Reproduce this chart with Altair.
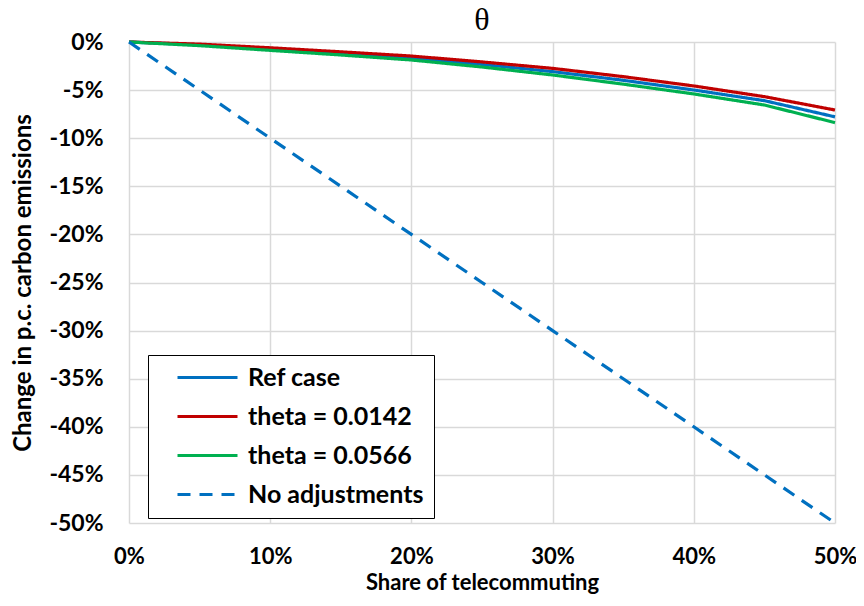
import altair as alt
import pandas as pd

share = [0, 5, 10, 15, 20, 25, 30, 35, 40, 45, 50]
ref_case = [0, -0.30, -0.75, -1.20, -1.66, -2.33, -3.08, -3.98, -4.99, -6.10, -7.78]
theta_0142 = [0, -0.22, -0.60, -1.02, -1.46, -2.07, -2.74, -3.60, -4.57, -5.68, -7.07]
theta_0566 = [0, -0.38, -0.87, -1.35, -1.87, -2.60, -3.43, -4.38, -5.40, -6.55, -8.38]
no_adjust = [0, -5, -10, -15, -20, -25, -30, -35, -40, -45, -50]

series_names = ["Ref case", "theta = 0.0142", "theta = 0.0566", "No adjustments"]
series_colors = ["#0070C0", "#C00000", "#00B050", "#0070C0"]
series_dash = [[1, 0], [1, 0], [1, 0], [13, 9]]

rows = []
for name, vals in zip(series_names, [ref_case, theta_0142, theta_0566, no_adjust]):
    for s, v in zip(share, vals):
        rows.append({"share": s, "value": v, "series": name})
df = pd.DataFrame(rows)

FONT = "Lato"


def make_legend():
    return alt.Legend(title=None, orient="none", legendX=19, legendY=313,
                      symbolType="M-3,0H3", symbolSize=400,
                      symbolStrokeWidth=3.2, symbolOffset=37, labelOffset=28,
                      labelFont=FONT, labelFontSize=25,
                      labelFontWeight="bold", labelColor="black",
                      labelLimit=400, rowPadding=13, padding=10,
                      strokeColor="black", fillColor="white")


chart = alt.Chart(df).mark_line(strokeWidth=3.2).encode(
    x=alt.X("share:Q",
            scale=alt.Scale(domain=[0, 50], nice=False),
            axis=alt.Axis(values=[0, 10, 20, 30, 40, 50],
                          labelExpr="datum.value + '%'",
                          title="Share of telecommuting",
                          grid=True, domain=False, ticks=False, labelFlush=False,
                          labelFont=FONT, labelFontSize=22, labelFontWeight="bold",
                          labelColor="black", labelPadding=23,
                          titleFont=FONT, titleFontSize=22, titleFontWeight="bold",
                          titleColor="black", titlePadding=5)),
    y=alt.Y("value:Q",
            scale=alt.Scale(domain=[-50, 0], nice=False),
            axis=alt.Axis(values=list(range(-50, 1, 5)),
                          labelExpr="datum.value + '%'",
                          title="Change in p.c. carbon emissions",
                          grid=True, domain=False, ticks=False,
                          labelFont=FONT, labelFontSize=23, labelFontWeight="bold",
                          labelColor="black", labelPadding=26,
                          titleFont=FONT, titleFontSize=24, titleFontWeight="bold",
                          titleColor="black", titlePadding=13)),
    color=alt.Color("series:N",
                    scale=alt.Scale(domain=series_names, range=series_colors),
                    legend=make_legend()),
    strokeDash=alt.StrokeDash("series:N",
                              scale=alt.Scale(domain=series_names, range=series_dash),
                              legend=make_legend()),
).properties(
    width=706, height=481,
    title=alt.Title("θ", font="Liberation Serif", fontSize=32, fontWeight="normal",
                    color="black", anchor="middle", offset=6, dy=12),
    autosize="none",
    padding={"left": 121, "top": 34, "right": 21, "bottom": 75},
).configure_view(stroke=None).configure_axis(gridColor="#d9d9d9", gridWidth=1.5)

chart.save("out.html", embed_options={"renderer": "svg", "actions": False})
